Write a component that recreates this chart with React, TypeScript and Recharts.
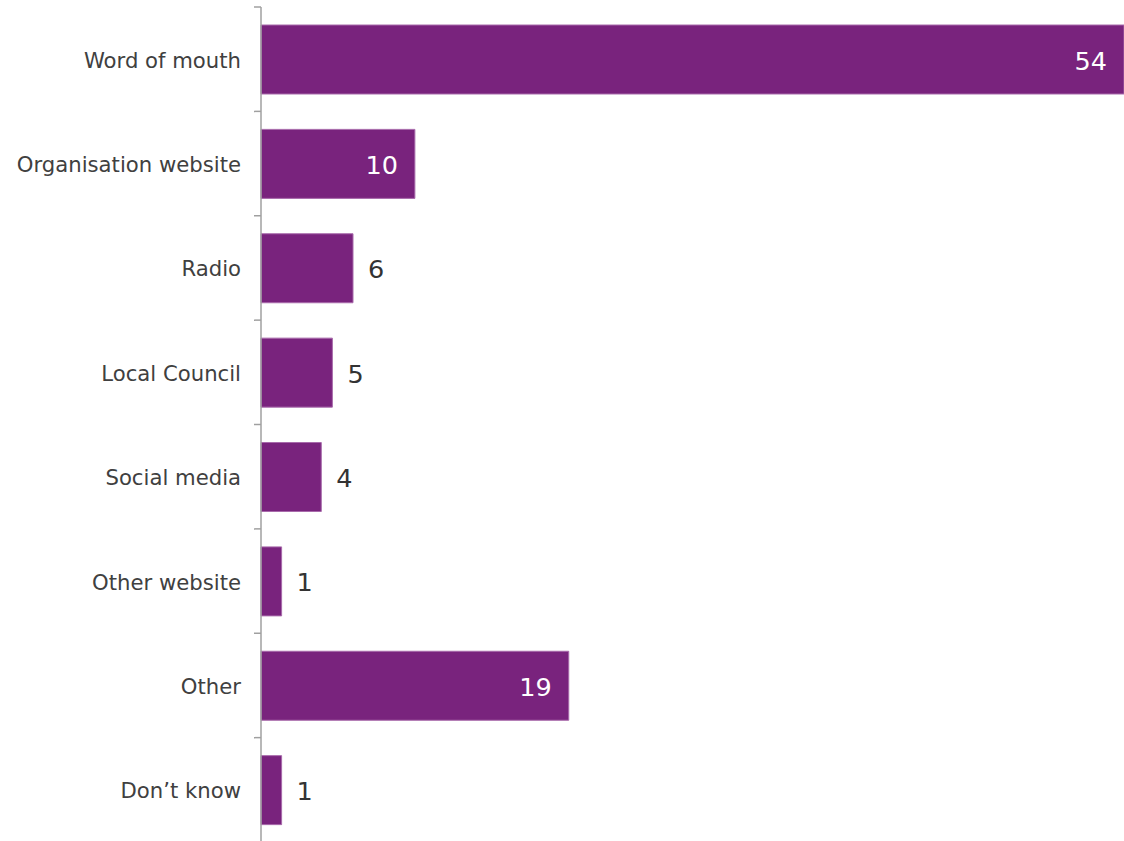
import React from "react";
import { BarChart, Bar, XAxis, YAxis, LabelList } from "recharts";

const categories = [
  "Word of mouth",
  "Organisation website",
  "Radio",
  "Local Council",
  "Social media",
  "Other website",
  "Other",
  "Don\u2019t know",
];
const values = [54.4, 9.7, 5.8, 4.5, 3.8, 1.3, 19.4, 1.3];

const data = categories.map((name, i) => ({ name, value: values[i] }));

const CHART_W = 1124;
const CHART_H = 842;
const MARGIN = { top: 7, right: 0, bottom: 0, left: 0 };
const FONT = "'DejaVu Sans', Verdana, sans-serif";
const BAR_COLOR = "#79237D";
const AXIS_COLOR = "#A0A0A0";
const bandHalf = (CHART_H - MARGIN.top - MARGIN.bottom) / categories.length / 2;

const CategoryTick = (props: any) => {
  const { x, y, payload } = props;
  return (
    <g>
      <line x1={x - 7} x2={x} y1={y - bandHalf} y2={y - bandHalf} stroke={AXIS_COLOR} strokeWidth={1.5} />
      <text
        x={x - 20}
        y={y + 1}
        textAnchor="end"
        dominantBaseline="central"
        fill="#404040"
        fontSize={21.2}
        fontFamily={FONT}
      >
        {payload.value}
      </text>
    </g>
  );
};

const ValueLabel = (props: any) => {
  const { x, y, width, height, value } = props;
  const inside = value >= 9;
  const end = x + width;
  return (
    <text
      x={inside ? end - 17 : end + 15}
      y={y + height / 2 + 1}
      textAnchor={inside ? "end" : "start"}
      dominantBaseline="central"
      fill={inside ? "#FFFFFF" : "#333333"}
      fontSize={25.5}
      fontFamily={FONT}
    >
      {Math.round(value)}
    </text>
  );
};

export default function App() {
  return (
    <div style={{ position: "absolute", left: 0, top: 0, background: "#fff" }}>
      <BarChart width={CHART_W} height={CHART_H} data={data} layout="vertical" margin={MARGIN}>
        <XAxis type="number" hide domain={[0, 54.4]} />
        <YAxis
          type="category"
          dataKey="name"
          width={261}
          axisLine={{ stroke: AXIS_COLOR, strokeWidth: 1.5 }}
          tickLine={false}
          tickSize={0}
          tickMargin={0}
          tick={<CategoryTick />}
          interval={0}
        />
        <Bar
          dataKey="value"
          fill={BAR_COLOR}
          stroke="#A86AAB"
          strokeWidth={1}
          barSize={69}
          isAnimationActive={false}
        >
          <LabelList dataKey="value" content={<ValueLabel />} />
        </Bar>
      </BarChart>
    </div>
  );
}
